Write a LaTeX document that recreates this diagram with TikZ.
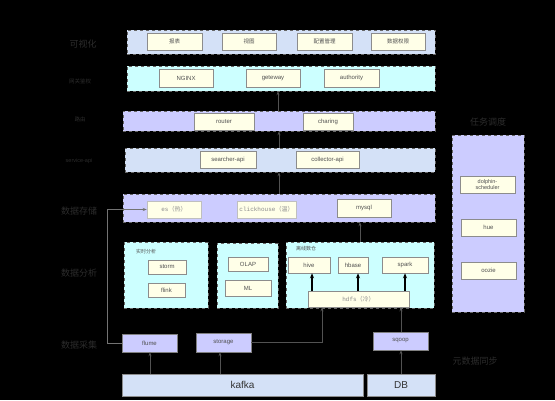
\documentclass[tikz,border=0pt]{standalone}
\usepackage{fontspec}
\setmainfont{Liberation Sans}
\setmonofont{Liberation Mono}
\newfontfamily\cjk{Noto Sans CJK SC}
\usetikzlibrary{arrows.meta}
\definecolor{lblue}{RGB}{212,225,247}
\definecolor{lcyan}{RGB}{204,255,255}
\definecolor{lav}{RGB}{204,204,255}
\definecolor{cream}{RGB}{255,255,232}
\definecolor{lbl}{RGB}{44,44,44}
\definecolor{itxt}{RGB}{80,80,80}
\tikzset{
  band/.style={draw=black!60, dashed, line width=0.4pt, inner sep=0pt, anchor=center},
  ibox/.style={draw=black!45, fill=cream, line width=0.5pt, inner sep=0pt, anchor=center, font=\fontsize{6}{6.5}\selectfont, text=itxt, align=center},
  sbox/.style={draw=black!50, fill=lav, line width=0.4pt, inner sep=0pt, anchor=center, font=\fontsize{6}{6.5}\selectfont, text=itxt},
  bigbox/.style={draw=black!45, fill=lblue, line width=0.4pt, inner sep=0pt, anchor=center, font=\fontsize{10}{12}\selectfont, text=black!80},
  biglbl/.style={font=\cjk\fontsize{9}{10}\selectfont, text=lbl},
  smllbl/.style={font=\cjk\fontsize{5.5}{6}\selectfont, text=lbl},
  sublbl/.style={font=\cjk\fontsize{5}{6}\selectfont, text=itxt, inner sep=0pt},
  arr/.style={draw=black!68, line width=0.6pt, -{Stealth[length=4pt,width=3pt]}},
  harr/.style={draw=black, line width=1.3pt, -{Stealth[length=5pt,width=4pt]}},
}
\begin{document}
\begin{tikzpicture}[x=1pt,y=-1pt]
\fill[black] (0,0) rectangle (555,400);
\useasboundingbox (0,0) rectangle (555,400);
% left labels
\node[biglbl] (l1) at (83,44) {可视化};
\node[smllbl] (l2) at (80,81) {网关鉴权};
\node[smllbl] (l3) at (80,119) {路由};
\node[font=\fontsize{5.5}{6}\selectfont, text=lbl] (l4) at (79,161) {service-api};
\node[biglbl] (l5) at (79,211) {数据存储};
\node[biglbl] (l6) at (79,273) {数据分析};
\node[biglbl] (l7) at (79,345) {数据采集};
\node[biglbl] (l8) at (488,122) {任务调度};
\node[biglbl] (l9) at (475,361) {元数据同步};
% bands
\node[band, fill=lblue, minimum width=308pt, minimum height=24pt] (r1) at (281,42) {};
\node[band, fill=lcyan, minimum width=308pt, minimum height=25pt] (r2) at (281,78.5) {};
\node[band, fill=lav, minimum width=312pt, minimum height=20pt] (r3) at (279,121) {};
\node[band, fill=lblue, minimum width=310pt, minimum height=24pt] (r4) at (280,160) {};
\node[band, fill=lav, minimum width=312pt, minimum height=28pt] (r5) at (279,208) {};
% row 1
\node[ibox, minimum width=55pt, minimum height=17pt, font=\cjk\fontsize{5.5}{6}\selectfont] (baobiao) at (174.5,41.5) {报表};
\node[ibox, minimum width=54pt, minimum height=17pt, font=\cjk\fontsize{5.5}{6}\selectfont] (shitu) at (249,41.5) {视图};
\node[ibox, minimum width=55pt, minimum height=17pt, font=\cjk\fontsize{5.5}{6}\selectfont] (peizhi) at (324.5,41.5) {配置管理};
\node[ibox, minimum width=54pt, minimum height=17pt, font=\cjk\fontsize{5.5}{6}\selectfont] (quanxian) at (398,41.5) {数据权限};
% row 2
\node[ibox, minimum width=54pt, minimum height=18pt] (nginx) at (186,78) {NGINX};
\node[ibox, minimum width=54pt, minimum height=18pt] (gw) at (273,78) {geteway};
\node[ibox, minimum width=55pt, minimum height=18pt] (auth) at (351.5,78) {authority};
% row 3
\node[ibox, minimum width=60pt, minimum height=17pt] (router) at (224,121.5) {router};
\node[ibox, minimum width=50pt, minimum height=17pt] (charing) at (328,121.5) {charing};
% row 4
\node[ibox, minimum width=56pt, minimum height=17pt] (searcher) at (228,159.5) {searcher-api};
\node[ibox, minimum width=63pt, minimum height=17pt] (collector) at (327.5,159.5) {collector-api};
% row 5
\node[ibox, draw=black!25, minimum width=54pt, minimum height=17pt, text=black!45] (es) at (174,209.5) {{\ttfamily es}{\cjk（热）}};
\node[ibox, draw=black!25, minimum width=59pt, minimum height=17pt, text=black!45] (ch) at (266.5,209.5) {{\ttfamily clickhouse}{\cjk（温）}};
\node[ibox, minimum width=54pt, minimum height=18pt] (mysql) at (364,208) {mysql};
% analysis
\node[band, fill=lcyan, minimum width=84pt, minimum height=66pt] (a1) at (166,275) {};
\node[band, fill=lcyan, minimum width=61pt, minimum height=65pt] (a2) at (247.5,275.5) {};
\node[band, fill=lcyan, minimum width=148pt, minimum height=66pt] (a3) at (360,275) {};
\node[sublbl] (a1l) at (146,252) {实时分析};
\node[sublbl] (a3l) at (306,249) {离线数仓};
\node[ibox, minimum width=38pt, minimum height=14pt] (storm) at (167,267) {storm};
\node[ibox, minimum width=37pt, minimum height=14pt] (flink) at (166.5,290) {flink};
\node[ibox, minimum width=40pt, minimum height=14pt] (olap) at (248,264) {OLAP};
\node[ibox, minimum width=46pt, minimum height=16pt] (ml) at (248,288) {ML};
\node[ibox, minimum width=42pt, minimum height=16pt] (hive) at (309,265) {hive};
\node[ibox, minimum width=30pt, minimum height=16pt] (hbase) at (353,265) {hbase};
\node[ibox, minimum width=46pt, minimum height=16pt] (spark) at (405,265) {spark};
\node[ibox, minimum width=101pt, minimum height=16pt, text=black!45] (hdfs) at (358.5,299) {{\ttfamily hdfs}{\cjk（冷）}};
% collection
\node[sbox, minimum width=55pt, minimum height=18pt] (flume) at (149.5,343) {flume};
\node[sbox, minimum width=55pt, minimum height=19pt] (storage) at (223.5,342.5) {storage};
\node[sbox, minimum width=55pt, minimum height=18pt] (sqoop) at (400.5,341) {sqoop};
\node[bigbox, minimum width=241pt, minimum height=22pt] (kafka) at (242.5,385) {kafka};
\node[bigbox, minimum width=68pt, minimum height=22pt] (db) at (401,385) {DB};
% task scheduling
\node[band, fill=lav, minimum width=72pt, minimum height=177pt] (task) at (488,223.5) {};
\node[ibox, minimum width=55pt, minimum height=17pt, font=\fontsize{5.5}{6.5}\selectfont] (dolphin) at (487.5,184.5) {dolphin-\\scheduler};
\node[ibox, minimum width=55pt, minimum height=17pt] (hue) at (488.5,227.5) {hue};
\node[ibox, minimum width=55pt, minimum height=17pt] (oozie) at (488.5,270.5) {oozie};
% helper coordinates
\coordinate (x278) at (278,0);
\coordinate (x279) at (279,0);
\coordinate (x360) at (360,0);
\coordinate (x312) at (312,0);
\coordinate (x358) at (358,0);
\coordinate (x405) at (405,0);
\coordinate (x322) at (322,0);
\coordinate (x220) at (220,0);
\coordinate (x150) at (150,0);
\coordinate (x401) at (401,0);
\coordinate (lft) at (107,209.5);
% arrows
\draw[arr] (r3.north -| x278) -- (r2.south -| x278);
\draw[arr] (r4.north -| x279) -- (r3.south -| x279);
\draw[arr] (r5.north -| x279) -- (r4.south -| x279);
\draw[arr] (a3.north -| x360) -- (r5.south -| x360);
\draw[harr] (hdfs.north -| x312) -- (hive.south -| x312);
\draw[harr] (hdfs.north -| x358) -- (hbase.south -| x358);
\draw[harr] (hdfs.north -| x405) -- (spark.south -| x405);
\draw[arr] (storage.east) -| (hdfs.south -| x322);
\draw[arr] (sqoop.north -| x401) -- (hdfs.south -| x401);
\draw[arr] (kafka.north -| x150) -- (flume.south -| x150);
\draw[arr] (kafka.north -| x220) -- (storage.south -| x220);
\draw[arr] (db.north -| x401) -- (sqoop.south -| x401);
\draw[arr, draw=black!55] (flume.west) -| (lft) -- (es.west);
\end{tikzpicture}
\end{document}
